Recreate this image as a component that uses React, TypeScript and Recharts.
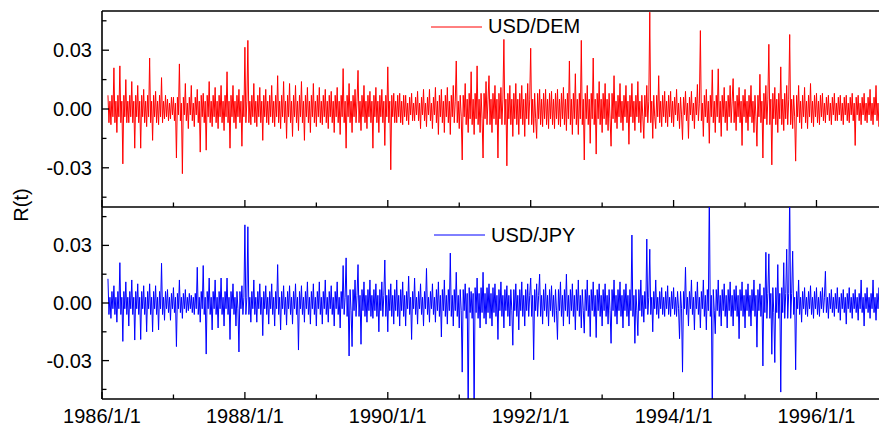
import { LineChart, Line, XAxis, YAxis, Legend } from "recharts";

// daily returns R(t): half-month extremes, in units of 1e-3
const demReturns = [
  7, -8, 21, -12, 22, -28, 15, -7, 14, -20,
  12, -20, 10, -9, 26, -16, 9, -8, 16, -5,
  5, -5, 6, -25, 23, -33, 13, -10, 12, -9,
  10, -22, 8, -21, 14, -9, 11, -10, 12, -11,
  19, -20, 12, -10, 10, -19, 31.5, 35, -8, 13,
  -9, 11, -16, 10, -8, 12, -9, 17, -10, 14,
  -15, 13, -14, 12, -11, 14, -16, 11, -12, 13,
  -9, 11, -8, 10, -10, 9, -12, 11, -13, 20.6,
  -20, 13, -12, 10, 19.7, -11, 12, -10, 9, -20,
  11, -12, 10, -18.6, 21.5, -31, 8, -7, 8, -8,
  7, -8, 8, -6, 9, -10, 10, -9, 10, -10,
  11, -13, 10, -12, 11, -13, 12, 24.5, -10, -26,
  13, -12, 19, -13, 22, -12, -25, 14, 17, -12,
  12, -25, 11, 35.5, -29, 12, -14, 13, -13, 12,
  -14, 13, 31, -12, -15, 10, -9, 10, -10, 9,
  -10, 10, -9, 11, -11, 24.5, -13, 18, -13, 35,
  -26, 12, -17.5, 26, -23, 14, -12, 13, -11, -19,
  17, -10, 13, -11, 12, -18, 13, -11, 14, -12,
  -15, 12, 49.4, -15, -10, 17, -9, 9, -9, 9,
  -9, 10, -10, -15.6, 9, -15, 9, -10, 12.5, 40,
  -14, 10, -17.5, 20, -12, 20.5, -14, 11, -11, 12,
  15.5, -11, 11, -18.6, 10, -11, 12, -12, -19, 17.7,
  -25, 12, 33, -28.5, 11, -12, 21.5, -11, 12, 38,
  -10, -26.6, 12, -10, 11, -10, 13, -9, 8, -8,
  8, -7, 7, -8, 8, -6, 7, -8, 7, -7,
  8, -18.6, 7, -8, 8, -7, 10, -8, 12, -9,
];

const jpyReturns = [
  12.6, -8, 9, -10, 21, -20, 11, -12, 12, -19.3,
  10, -19, 9, -15, 10, -15, 9, -14, 20.7, -9,
  7, -9, 8, -22.7, 12, -8, 7, -4, 4, -6,
  18.6, -10, 19.5, -26.6, 13, -14, 12, -13, 13, -12,
  13, -19, 10, -12, -25.5, 9, 40.7, 39.7, -10, 12,
  -10, 10, -17, 9, -11, 10, -12, 20, -14, 9,
  -11.5, 9, -11, 10, -24.5, 9, -10, 11, -11, 10,
  -12, 11, -11, 12, -10, 9, -12, 11, -13, 19.5,
  23.5, -27.6, -22.7, 12, 20, -21.5, 11, -10, 12, -8,
  10, -15, 11, 22.4, -15, 10, -11, 12, -12, 11,
  -12, 14, -19, 13, -11, 10, -12, 18, -10, 10,
  -10, 11, -17.7, 12, -11, 26, -12, 16, -13, -36,
  10, -58, 6, -58, 13, -13, 16, -11, 10, -12,
  10, -19, 11, -13, 9, -12, -22, 10, -14, 11,
  -12, 10, 13, -29.6, 10, 15, -11, 10, -12, 9,
  -10, -19, 11, -12, 15, -11, 10, -14, 12, -13,
  -15.7, 12, -17.5, 11, -18, 10, -12, 10, -11, -21,
  12, -11, 11, -13, 10, -12, 35.4, -21, -17, 12,
  -10, 33.3, 28, -15, 12, -8, 8, -7, 9, -7,
  8, -7, -18.6, -36, 18.6, -12, 12, -14, 11, -13,
  12, -14, 58, -58, -16, 12, -12, 10, -13, 11,
  -12, 9, -18.6, 11, -13, 10, -12, 12, -23, 10,
  -32.8, 26.4, 25.6, -26.7, -31, 20, -46.4, 21, 28, 58,
  27, -34.8, 12, -10, 8, -7, 9, -8, 8, -7,
  8, 16.5, -8, 7, -7, 8, -9, 7, -11, 8,
  -8, 7, -9, 12, -12, 8, -8, 12, -9, 8,
];

// dense core band, one value per 5-month block (1e-3): outer fuzzy edge and inner solid part
const demOuter = [7, 7, 6, 7, 7, 7, 7, 7, 7, 7, 6, 7, 8, 8, 8, 8, 8, 7, 7, 6, 7, 7, 8, 7, 6, 6];
const demInner = [4, 4, 3, 4, 4, 4, 4, 4, 4, 4, 3, 4, 5, 5, 5, 5, 5, 4, 4, 3, 4, 4, 5, 4, 3, 3];
const jpyOuter = [6, 6, 5, 6, 6, 6, 6, 6, 7, 7, 6, 7, 8, 7, 7, 7, 7, 7, 6, 6, 7, 7, 8, 6, 5, 5];
const jpyInner = [3, 3, 3, 3, 3, 3, 3, 3, 4, 4, 3, 4, 5, 4, 4, 4, 4, 4, 3, 3, 4, 4, 5, 3, 3, 3];

// time axis (decimal years), first sample Feb 1986, half-month steps
const START_YEAR = 1986 + 1 / 12;
const STEP_YEAR = 1 / 24;
const X_DOMAIN = [1986, 1996.875];
const yearTicks = [1986, 1987, 1988, 1989, 1990, 1991, 1992, 1993, 1994, 1995, 1996];
const yTicks = [-0.045, -0.03, -0.015, 0, 0.015, 0.03, 0.045];
const Y_DOMAIN = [-0.05, 0.05];

// each half-month: the extreme, then the two core band edges
const rows: { t: number; dem: number; jpy: number }[] = [];
demReturns.forEach((v, i) => {
  const g = Math.floor(i / 10);
  const j = jpyReturns[i];
  const sd = v < 0 ? -1 : 1;
  const sj = j < 0 ? -1 : 1;
  const t0 = START_YEAR + i * STEP_YEAR;
  rows.push({ t: t0, dem: v / 1000, jpy: j / 1000 });
  rows.push({ t: t0 + STEP_YEAR / 3, dem: (-sd * demOuter[g]) / 1000, jpy: (-sj * jpyOuter[g]) / 1000 });
  rows.push({ t: t0 + (2 * STEP_YEAR) / 3, dem: (sd * demInner[g]) / 1000, jpy: (sj * jpyInner[g]) / 1000 });
});

const FONT = "'Liberation Sans', Arial, Helvetica, sans-serif";
const AXIS_W = 1.6;

const XTick = (props: any) => {
  const { x, y, payload, showLabel } = props;
  const year = Math.round(payload.value);
  const major = year % 2 === 0;
  return (
    <g>
      <line x1={x} y1={y} x2={x} y2={y - (major ? 7 : 4.5)} stroke="#000" strokeWidth={1.3} />
      {showLabel && major && (
        <text x={x} y={y + 24} textAnchor="middle" fontSize={20} fill="#000">
          {`${year}/1/1`}
        </text>
      )}
    </g>
  );
};

const YTick = (props: any) => {
  const { x, y, payload } = props;
  const v = payload.value;
  const major = Math.abs(Math.round(v * 1000)) % 30 === 0;
  return (
    <g>
      <line x1={x} y1={y} x2={x + (major ? 7 : 4.5)} y2={y} stroke="#000" strokeWidth={1.3} />
      {major && (
        <text x={x - 10} y={y + 7} textAnchor="end" fontSize={20} fill="#000">
          {Math.abs(v) < 1e-9 ? "0.00" : v.toFixed(2)}
        </text>
      )}
    </g>
  );
};

const legendContent = (label: string, color: string) => () => (
  <div style={{ display: "flex", alignItems: "center", fontFamily: FONT }}>
    <svg width={51} height={4} style={{ display: "block" }}>
      <line x1={0} y1={2} x2={51} y2={2} stroke={color} strokeWidth={1} />
    </svg>
    <span style={{ fontSize: 20, color: "#000", marginLeft: 6, lineHeight: "23px" }}>{label}</span>
  </div>
);

const Panel = ({
  dataKey,
  color,
  label,
  height,
  top,
  bottomAxisHeight,
  showLabels,
  legendPos,
  topBorder,
}: any) => (
  <LineChart
    width={879}
    height={height}
    data={rows}
    margin={{ top, right: 0, left: 0, bottom: 0 }}
    style={{ position: "absolute", left: 0, top: 0 }}
  >
    <XAxis
      dataKey="t"
      type="number"
      domain={X_DOMAIN}
      allowDataOverflow
      ticks={yearTicks}
      interval={0}
      tickLine={false}
      tickSize={0}
      tickMargin={0}
      height={bottomAxisHeight}
      axisLine={{ stroke: "#000", strokeWidth: AXIS_W }}
      tick={<XTick showLabel={showLabels} />}
    />
    {topBorder && (
      <XAxis
        xAxisId="border"
        orientation="top"
        type="number"
        domain={X_DOMAIN}
        height={1}
        tick={false}
        tickLine={false}
        axisLine={{ stroke: "#000", strokeWidth: AXIS_W }}
      />
    )}
    <YAxis
      type="number"
      domain={Y_DOMAIN}
      allowDataOverflow
      ticks={yTicks}
      interval={0}
      width={102}
      tickLine={false}
      tickSize={0}
      tickMargin={0}
      axisLine={{ stroke: "#000", strokeWidth: AXIS_W }}
      tick={<YTick />}
    />
    <Legend
      layout="horizontal"
      verticalAlign="middle"
      align="center"
      wrapperStyle={{ left: legendPos[0], top: legendPos[1], width: "auto" }}
      content={legendContent(label, color)}
    />
    <Line
      type="linear"
      dataKey={dataKey}
      stroke={color}
      strokeWidth={1}
      dot={false}
      activeDot={false}
      isAnimationActive={false}
    />
  </LineChart>
);

export default function App() {
  return (
    <div
      style={{
        position: "absolute",
        left: 0,
        top: 0,
        width: 879,
        height: 428,
        background: "#fff",
        fontFamily: FONT,
      }}
    >
      <div style={{ position: "absolute", left: 0, top: 0, width: 879, height: 208 }}>
        <Panel
          dataKey="dem"
          color="#ff0000"
          label="USD/DEM"
          height={208}
          top={10}
          bottomAxisHeight={1}
          showLabels={false}
          legendPos={[431, 15]}
          topBorder
        />
      </div>
      <div style={{ position: "absolute", left: 0, top: 207, width: 879, height: 221 }}>
        <Panel
          dataKey="jpy"
          color="#0000ff"
          label="USD/JPY"
          height={221}
          top={0}
          bottomAxisHeight={29}
          showLabels
          legendPos={[434, 16.5]}
          topBorder={false}
        />
      </div>
      <div
        style={{
          position: "absolute",
          left: 21,
          top: 205,
          transform: "translate(-50%, -50%) rotate(-90deg)",
          fontSize: 20,
          whiteSpace: "nowrap",
          color: "#000",
        }}
      >
        R(t)
      </div>
    </div>
  );
}
